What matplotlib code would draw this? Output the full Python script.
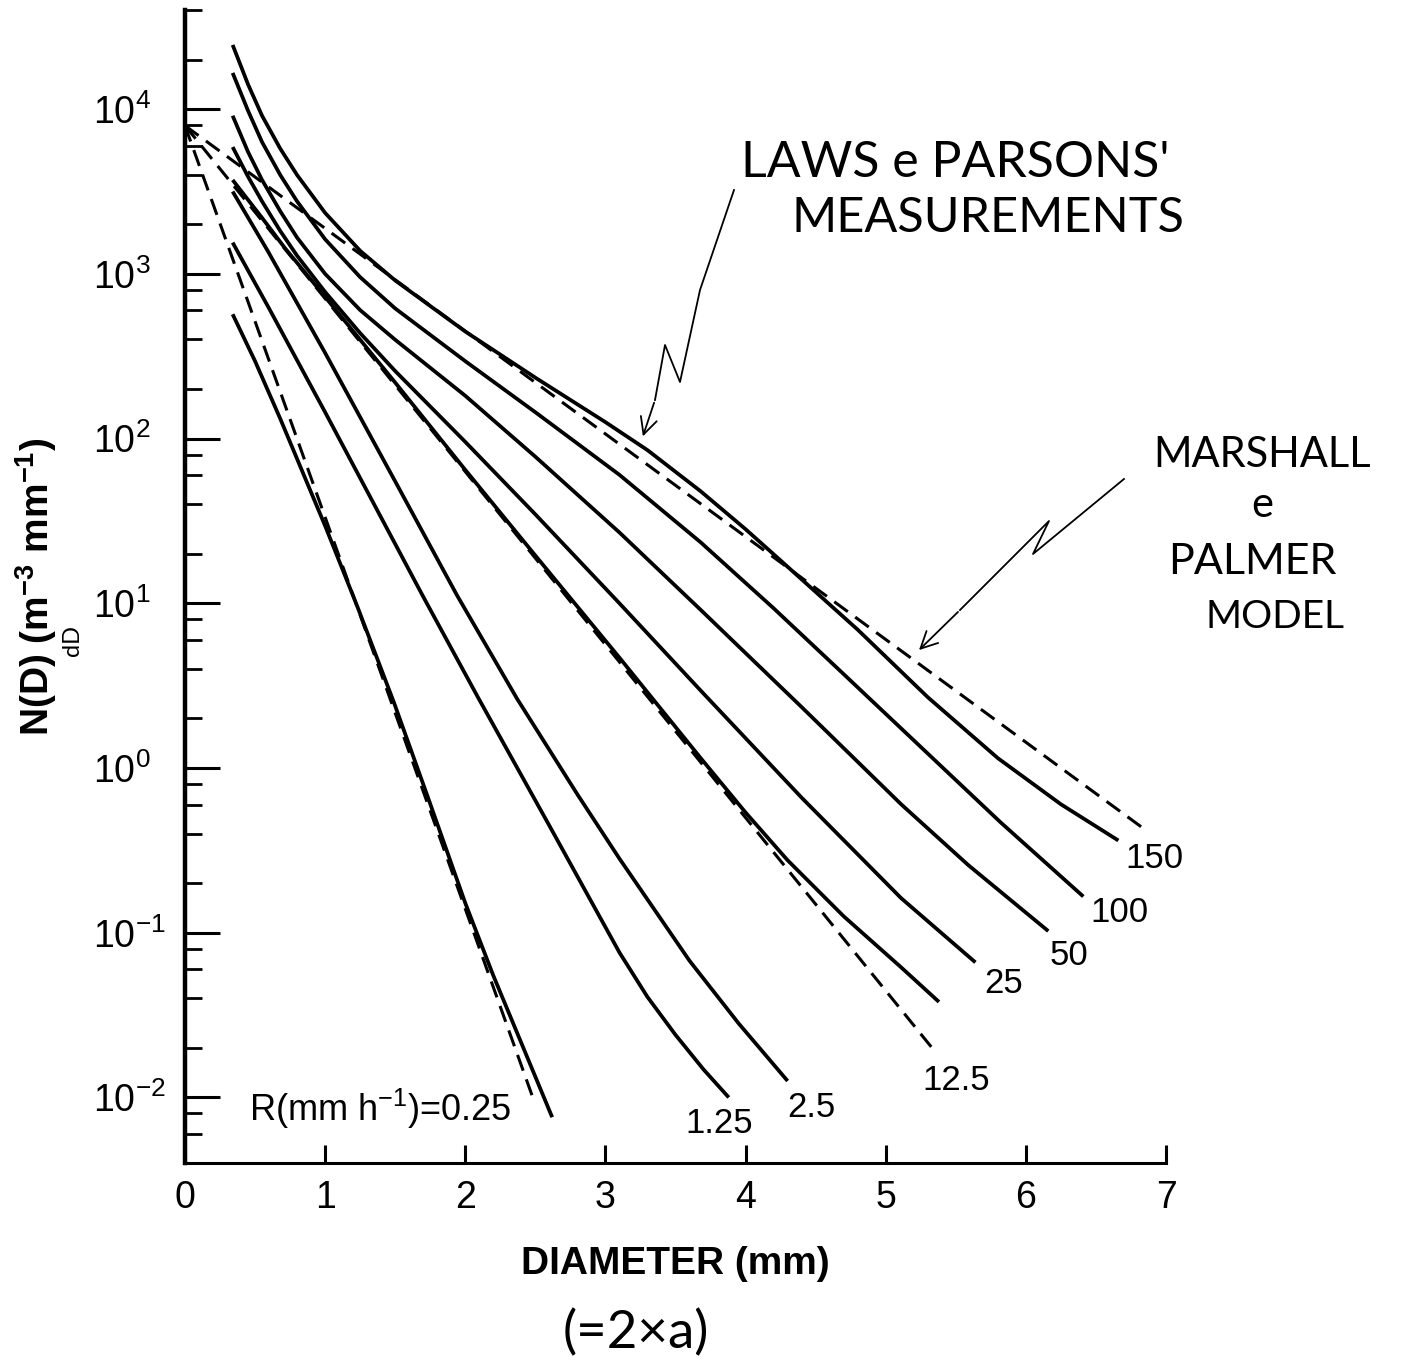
import matplotlib
matplotlib.use('Agg')
import matplotlib.pyplot as plt
import numpy as np
from matplotlib.lines import Line2D
from matplotlib.patches import FancyArrowPatch
from matplotlib.ticker import FixedLocator, LogLocator, NullFormatter

plt.rcParams['font.family'] = ['Liberation Sans', 'DejaVu Sans']
plt.rcParams['mathtext.fontset'] = 'custom'
plt.rcParams['mathtext.rm'] = 'Liberation Sans'
plt.rcParams['mathtext.it'] = 'Liberation Sans:italic'
plt.rcParams['mathtext.bf'] = 'Liberation Sans:bold'

D_150 = [0.34, 0.45, 0.55, 0.68, 0.80, 1.00, 1.25, 1.50, 2.00, 2.50, 3.00, 3.30, 3.68, 4.00, 4.25, 4.80, 5.30, 5.80, 6.25, 6.66]
LOG_150 = [4.39, 4.15, 3.96, 3.76, 3.60, 3.37, 3.14, 2.96, 2.65, 2.37, 2.10, 1.93, 1.68, 1.45, 1.26, 0.84, 0.43, 0.06, -0.22, -0.44]

D_100 = [0.34, 0.45, 0.55, 0.68, 0.80, 1.00, 1.25, 1.50, 2.00, 2.50, 3.10, 3.68, 4.20, 4.70, 5.26, 5.82, 6.41]
LOG_100 = [4.22, 3.99, 3.80, 3.60, 3.44, 3.21, 2.98, 2.79, 2.47, 2.16, 1.78, 1.37, 0.97, 0.57, 0.12, -0.33, -0.78]

D_50 = [0.34, 0.45, 0.55, 0.68, 0.80, 1.00, 1.25, 1.50, 2.00, 2.50, 3.10, 3.68, 4.40, 5.11, 5.59, 6.16]
LOG_50 = [3.96, 3.74, 3.57, 3.38, 3.22, 3.00, 2.78, 2.60, 2.26, 1.89, 1.43, 0.96, 0.37, -0.22, -0.59, -0.99]

D_25 = [0.34, 0.45, 0.55, 0.68, 0.80, 1.00, 1.25, 1.50, 2.00, 2.50, 3.10, 3.68, 4.40, 5.11, 5.64]
LOG_25 = [3.77, 3.59, 3.44, 3.26, 3.11, 2.89, 2.64, 2.41, 1.98, 1.54, 1.00, 0.47, -0.18, -0.79, -1.18]

D_12_5 = [0.34, 0.55, 0.71, 1.00, 1.50, 2.00, 2.50, 3.10, 3.68, 4.00, 4.30, 4.70, 5.11, 5.38]
LOG_12_5 = [3.57, 3.34, 3.16, 2.86, 2.34, 1.81, 1.29, 0.67, 0.06, -0.27, -0.56, -0.90, -1.21, -1.42]

D_2_5 = [0.34, 0.59, 1.00, 1.50, 1.94, 2.37, 2.80, 3.10, 3.60, 3.95, 4.30]
LOG_2_5 = [3.50, 3.14, 2.52, 1.74, 1.05, 0.42, -0.16, -0.55, -1.17, -1.55, -1.90]

D_1_25 = [0.34, 0.60, 1.00, 1.30, 1.70, 2.09, 2.60, 3.10, 3.30, 3.50, 3.70, 3.88]
LOG_1_25 = [3.19, 2.79, 2.16, 1.68, 1.04, 0.43, -0.35, -1.12, -1.39, -1.62, -1.83, -2.00]

D_0_25 = [0.34, 0.50, 0.68, 1.00, 1.23, 1.49, 1.73, 2.00, 2.20, 2.62]
LOG_0_25 = [2.755, 2.47, 2.12, 1.47, 0.98, 0.40, -0.17, -0.82, -1.26, -2.12]

# Marshall & Palmer model, straight lines on the semilog plot (end points)
MP_D_150 = [0.0, 6.86]
MP_LOG_150 = [3.90, -0.38]
MP_D_12_5 = [0.0, 5.36]
MP_LOG_12_5 = [3.90, -1.73]
MP_D_0_25 = [0.0, 2.49]
MP_LOG_0_25 = [3.90, -2.02]

RATE_LABELS = ['150', '100', '50', '25', '12.5', '2.5', '1.25']
LABEL_D = [6.92, 6.67, 6.31, 5.84, 5.50, 4.47, 3.81]
LABEL_LOG = [-0.55, -0.88, -1.14, -1.31, -1.90, -2.06, -2.16]

X_TICKS = [0, 1, 2, 3, 4, 5, 6, 7]
Y_DECADES = [-2, -1, 0, 1, 2, 3, 4]

W, H = 1414, 1364
fig = plt.figure(figsize=(W / 100, H / 100), dpi=100)
ax = fig.add_axes([185 / W, 1 - 1163 / H, (1166 - 185) / W, (1163 - 10) / H])


def fx(x, y):
    # figure pixel -> figure fraction (top-left origin)
    return x / W, 1 - y / H


solid = [(D_150, LOG_150), (D_100, LOG_100), (D_50, LOG_50), (D_25, LOG_25),
         (D_12_5, LOG_12_5), (D_2_5, LOG_2_5), (D_1_25, LOG_1_25), (D_0_25, LOG_0_25)]
for d, lg in solid:
    ax.plot(d, 10 ** np.array(lg), color='black', lw=2.7, solid_capstyle='butt', solid_joinstyle='round')

for d, lg in [(MP_D_150, MP_LOG_150), (MP_D_12_5, MP_LOG_12_5), (MP_D_0_25, MP_LOG_0_25)]:
    ax.plot(d, 10 ** np.array(lg), color='black', lw=2.2, dashes=(5.5, 3.0))

for txt, d, lg in zip(RATE_LABELS, LABEL_D, LABEL_LOG):
    ax.text(d, 10 ** lg, txt, fontsize=25, ha='center', va='center')
ax.text(0.457, 10 ** -2.07, r'R(mm h$^{-1}$)=0.25', fontsize=26, ha='left', va='center')

ax.set_yscale('log')
ax.set_xlim(0, 7)
ax.set_ylim(4e-3, 4e4)

for s in ['top', 'right']:
    ax.spines[s].set_visible(False)
ax.spines['left'].set_linewidth(3.2)
ax.spines['bottom'].set_linewidth(2.2)

ax.xaxis.set_major_locator(FixedLocator(X_TICKS))
ax.set_xticklabels([str(t) for t in X_TICKS])
ax.tick_params(axis='x', direction='in', length=13, width=2.2, pad=12, labelsize=27)

ax.yaxis.set_major_locator(FixedLocator([10.0 ** k for k in Y_DECADES]))
ax.set_yticklabels([r'$10^{%d}$' % k for k in Y_DECADES])
ax.yaxis.set_minor_locator(LogLocator(base=10, subs=(2, 4, 6, 8), numticks=30))
ax.yaxis.set_minor_formatter(NullFormatter())
ax.tick_params(axis='y', which='major', direction='in', length=25, width=2.2, pad=66, labelsize=27)
ax.tick_params(axis='y', which='minor', direction='in', length=12, width=2.0)
for lab in ax.get_yticklabels():
    lab.set_horizontalalignment('left')

ax.set_xlabel('DIAMETER (mm)', fontsize=28, fontweight='bold')
ax.xaxis.set_label_coords(0.5, -0.072)
ax.set_ylabel(r'N(D) (m$^{\mathbf{-3}}$ mm$^{\mathbf{-1}}$)', fontsize=28, fontweight='bold')
ax.yaxis.set_label_coords(-0.128, 0.5)

# handwritten notes
hand = dict(family=['Lato', 'DejaVu Sans'], fontweight='normal', color='black')
fig.text(*fx(955, 163), "LAWS e PARSONS'", fontsize=36, ha='center', va='center', **hand)
fig.text(*fx(988, 218), 'MEASUREMENTS', fontsize=35, ha='center', va='center', **hand)
fig.text(*fx(1262, 455), 'MARSHALL', fontsize=30, ha='center', va='center', **hand)
fig.text(*fx(1262, 505), 'e', fontsize=30, ha='center', va='center', **hand)
fig.text(*fx(1252, 562), 'PALMER', fontsize=31, ha='center', va='center', **hand)
fig.text(*fx(1275, 617), 'MODEL', fontsize=28, ha='center', va='center', **hand)
fig.text(*fx(636, 1333), '(=2×a)', fontsize=38, ha='center', va='center', **hand)
fig.text(*fx(73, 640), 'dD', fontsize=17, rotation=90, ha='center', va='center', **hand)

for path, tip in [([(734, 190), (700, 290), (680, 382), (665, 345), (655, 400)], (642, 439)),
                  ([(1124, 479), (1033, 554), (1049, 521), (960, 610)], (917, 652))]:
    xs, ys = zip(*[fx(x, y) for x, y in path])
    fig.add_artist(Line2D(xs, ys, color='black', lw=1.3))
    fig.add_artist(FancyArrowPatch(fx(*path[-1]), fx(*tip), transform=fig.transFigure,
                                   arrowstyle='->', mutation_scale=30, lw=1.3, color='black'))

fig.savefig('out.png', dpi=100, facecolor='white')
